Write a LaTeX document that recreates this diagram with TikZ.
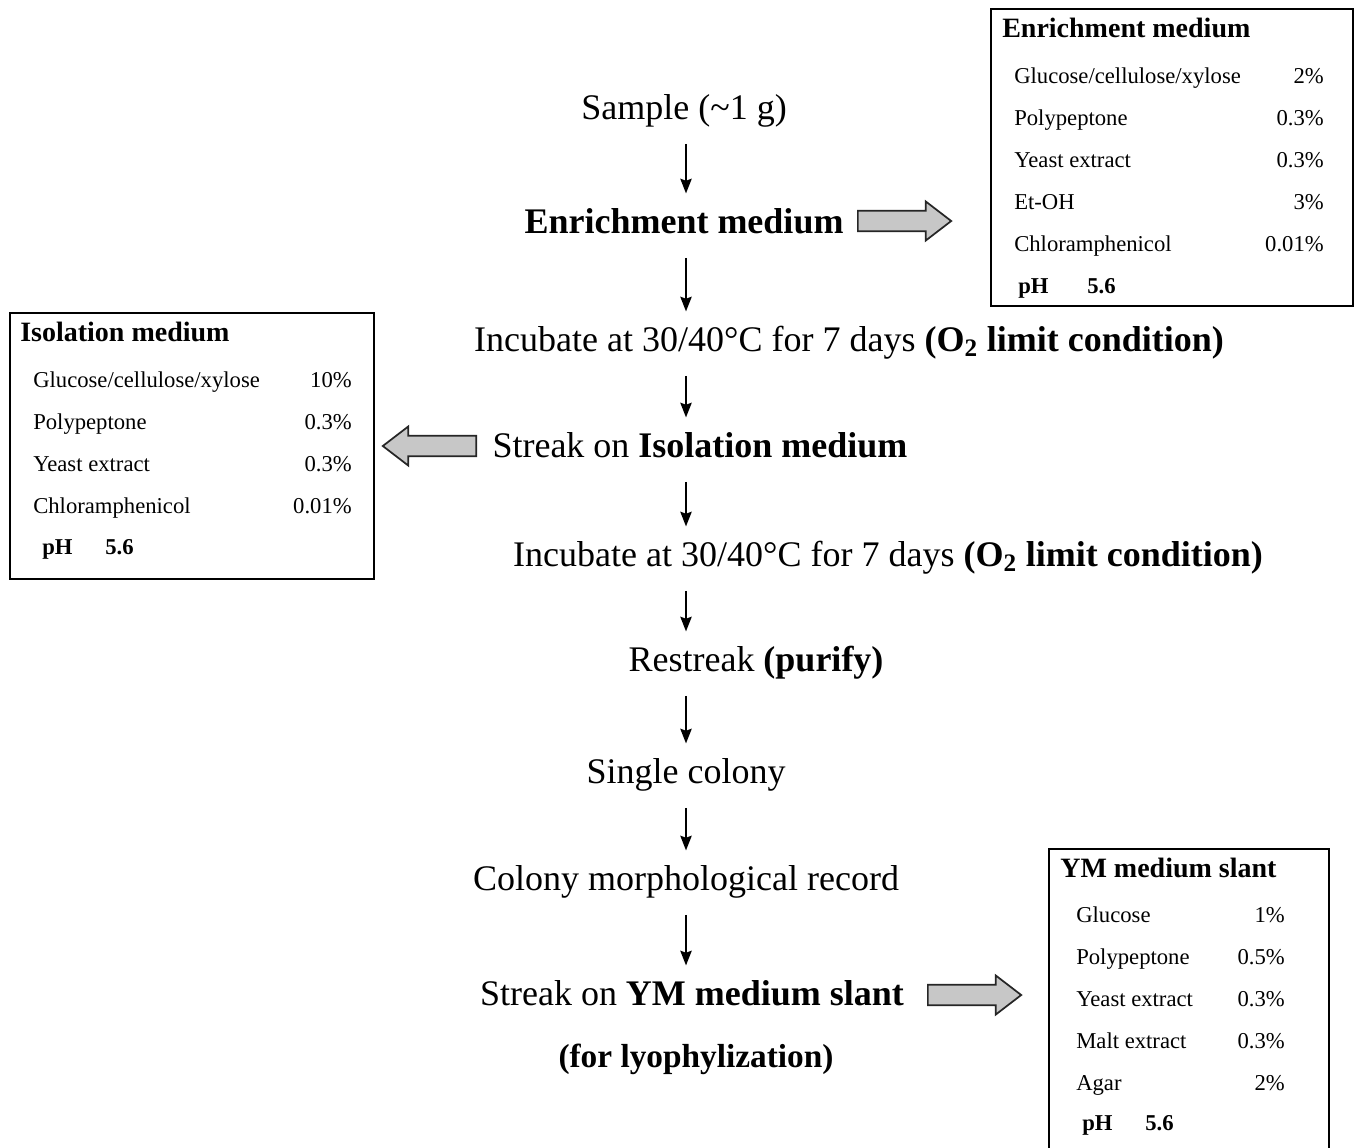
\documentclass[tikz,border=0pt]{standalone}
\usepackage{fontspec}
\setmainfont{Liberation Serif}
\usetikzlibrary{arrows.meta,shapes.arrows}

\newcommand{\gcx}{Glucose/cellulose/xylose}

\begin{document}
\begin{tikzpicture}[x=0.75pt,y=-0.75pt]
		\tikzstyle{stage}=[font=\fontsize{27}{30}\selectfont,inner sep=0pt,text height=20pt,text depth=7pt]
		\tikzstyle{flow}=[-{Stealth[length=11pt,width=8.5pt,inset=1.5pt]},line width=1.5pt,shorten <=11pt,shorten >=10pt]
		\tikzstyle{medbox}=[draw,line width=1.6pt,anchor=north west,inner sep=0pt]
		\tikzstyle{boxhead}=[font=\bfseries\fontsize{21}{24}\selectfont,anchor=base west,inner sep=0pt]
		\tikzstyle{item}=[font=\fontsize{17}{20}\selectfont,anchor=base west,inner sep=0pt]
		\tikzstyle{amount}=[item,anchor=base east]
		\tikzstyle{fat}=[single arrow,draw=black!85,fill=black!22,line width=1.3pt,inner xsep=0pt,inner ysep=7pt,
			minimum height=70pt,single arrow head extend=7pt,single arrow tip angle=75,anchor=tail]

		\clip (0,0) rectangle (1358,1147);
		\fill[white] (0,0) rectangle (1358,1147);

		% main flow
		\coordinate (ax) at (686,0);
		\node[stage](s1) at (684,111){Sample (\textasciitilde1 g)};
		\node[stage](s2) at (684,225){\textbf{Enrichment medium}};
		\node[stage](s3) at (849,343){Incubate at 30/40°C for 7 days \textbf{(O\textsubscript{2} limit condition)}};
		\node[stage](s4) at (700,449){Streak on \textbf{Isolation medium}};
		\node[stage](s5) at (888,558){Incubate at 30/40°C for 7 days \textbf{(O\textsubscript{2} limit condition)}};
		\node[stage](s6) at (756,663){Restreak \textbf{(purify)}};
		\node[stage](s7) at (686,775){Single colony};
		\node[stage](s8) at (686,882){Colony morphological record};
		\node[stage](s9) at (692,997){Streak on \textbf{YM medium slant}};
		\node[stage,font=\bfseries\fontsize{25}{28}\selectfont](s10) at (696,1059){(for lyophylization)};

		\foreach \a/\b in {s1/s2,s2/s3,s3/s4,s4/s5,s5/s6,s6/s7,s7/s8,s8/s9}
			\draw[flow] (\a.south -| ax) -- (\b.north -| ax);

		% side arrows
		\node[fat](f1) at (857,221){};
		\node[fat,shape border rotate=180](f2) at (477,446){};
		\node[fat](f3) at (927,995){};

		% enrichment medium
		\node[medbox,minimum width=271.5pt,minimum height=222.75pt](enrbox) at (990,8){};
		\node[boxhead](enrhead) at (1002,37){Enrichment medium};
		\foreach \n/\v [count=\i] in {\gcx/2\%,Polypeptone/0.3\%,Yeast extract/0.3\%,Et-OH/3\%,Chloramphenicol/0.01\%}{
			\node[item](enrn\i) at (1014,41+42*\i){\n};
			\node[amount](enrv\i) at (1324,41+42*\i){\v};
		}
		\node[item,font=\bfseries\fontsize{17}{20}\selectfont](enrph) at (1018,293){pH};
		\node[item,font=\bfseries\fontsize{17}{20}\selectfont](enrphv) at (1087,293){5.6};

		% isolation medium
		\node[medbox,minimum width=273pt,minimum height=199.5pt](isobox) at (9,312){};
		\node[boxhead](isohead) at (20,341){Isolation medium};
		\foreach \n/\v [count=\i] in {\gcx/10\%,Polypeptone/0.3\%,Yeast extract/0.3\%,Chloramphenicol/0.01\%}{
			\node[item](ison\i) at (33,345+42*\i){\n};
			\node[amount](isov\i) at (352,345+42*\i){\v};
		}
		\node[item,font=\bfseries\fontsize{17}{20}\selectfont](isoph) at (42,554){pH};
		\node[item,font=\bfseries\fontsize{17}{20}\selectfont](isophv) at (105,554){5.6};

		% YM medium slant
		\node[medbox,minimum width=210pt,minimum height=240pt](ymbox) at (1048,848){};
		\node[boxhead](ymhead) at (1060,877){YM medium slant};
		\foreach \n/\v [count=\i] in {Glucose/1\%,Polypeptone/0.5\%,Yeast extract/0.3\%,Malt extract/0.3\%,Agar/2\%}{
			\node[item](ymn\i) at (1076,880+42*\i){\n};
			\node[amount](ymv\i) at (1285,880+42*\i){\v};
		}
		\node[item,font=\bfseries\fontsize{17}{20}\selectfont](ymph) at (1082,1130){pH};
		\node[item,font=\bfseries\fontsize{17}{20}\selectfont](ymphv) at (1145,1130){5.6};
	\end{tikzpicture}
\end{document}
